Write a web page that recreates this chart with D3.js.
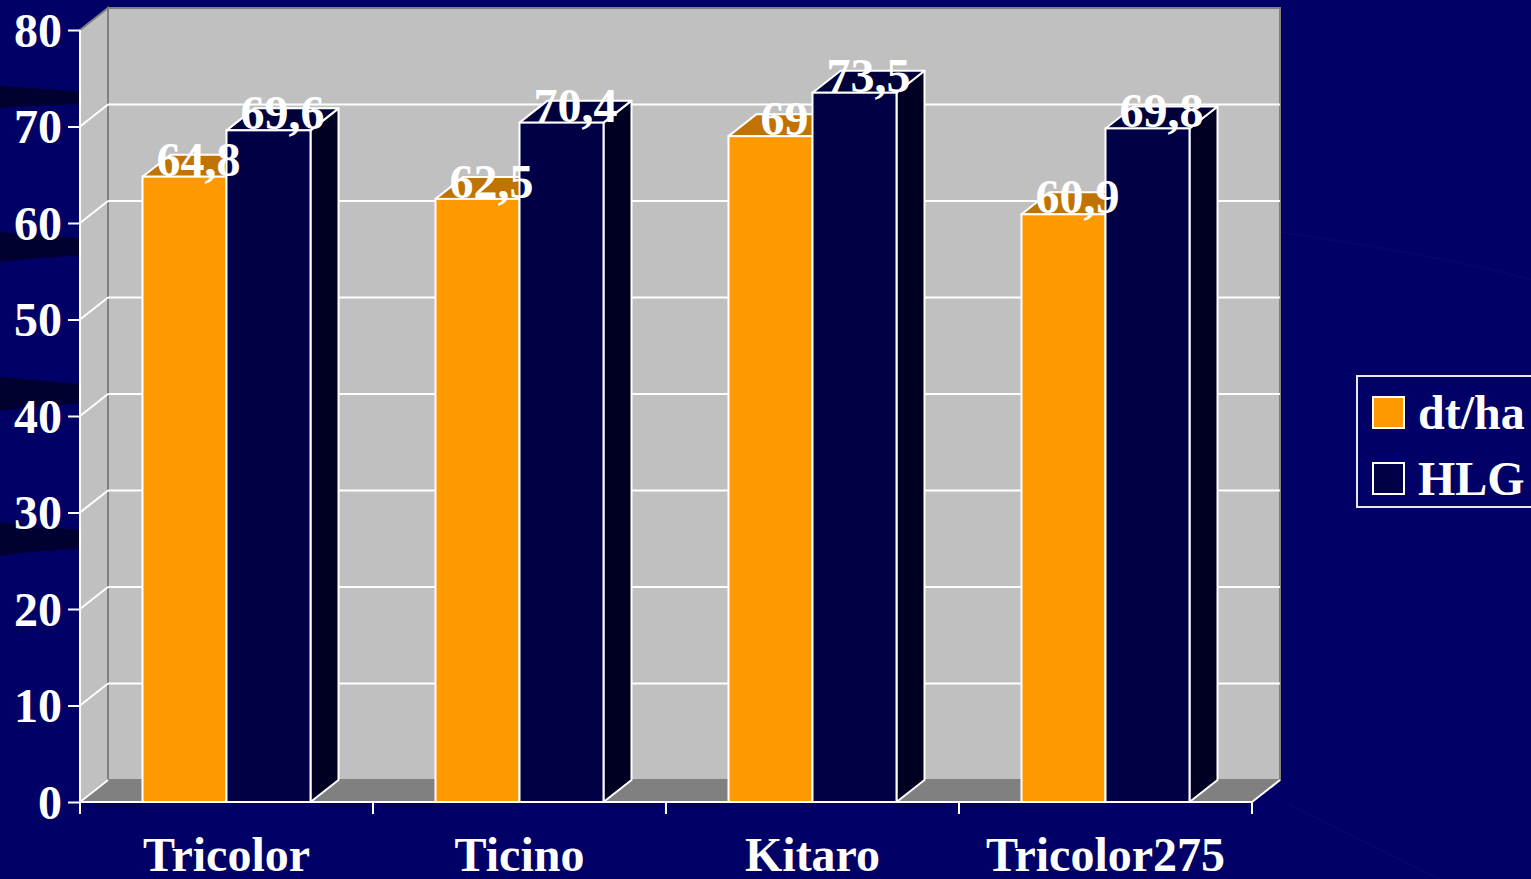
<!DOCTYPE html>
<html>
<head>
<meta charset="utf-8">
<script src="https://cdn.jsdelivr.net/npm/d3@7"></script>
<style>
  html, body { margin: 0; padding: 0; background: #000066; overflow: hidden; }
  svg { display: block; }
  text { font-family: "Liberation Serif", "Times New Roman", serif; font-weight: bold; fill: #ffffff; }
</style>
</head>
<body>
<svg id="chart" width="1531" height="879"></svg>
<script>
// ---- data ----
const categories = ["Tricolor", "Ticino", "Kitaro", "Tricolor275"];
const seriesNames = ["dt/ha", "HLG"];
const dtHa = [64.8, 62.5, 69, 60.9];
const hlg = [69.6, 70.4, 73.5, 69.8];
const yTicks = [0, 10, 20, 30, 40, 50, 60, 70, 80];
const valueLabels = {
  "dt/ha": ["64,8", "62,5", "69", "60,9"],
  "HLG": ["69,6", "70,4", "73,5", "69,8"]
};

const seriesValues = { "dt/ha": dtHa, "HLG": hlg };
const colors = {
  "dt/ha": { front: "#ff9900", top: "#c07300", side: "#a05f00" },
  "HLG":   { front: "#000046", top: "#00003a", side: "#000022" }
};

const svg = d3.select("#chart");
const W = 1531, H = 879;
const FS = 48;

// background decorative dark swooshes
const bg = svg.append("g");
bg.append("rect").attr("width", W).attr("height", H).attr("fill", "#000066");
const swoosh = [
  "M0,86 C60,90 140,96 300,104 L300,106 C140,100 60,104 0,108 Z",
  "M0,232 C50,236 150,244 300,252 L300,254 C150,250 50,256 0,262 Z",
  "M0,377 C50,382 150,390 300,398 L300,400 C150,398 50,404 0,411 Z",
  "M0,522 C50,528 150,536 300,544 L300,546 C150,544 50,548 0,556 Z"
];
bg.selectAll("path.sw").data(swoosh).enter().append("path")
  .attr("d", d => d).attr("fill", "#000028").attr("opacity", 0.85);
bg.append("path").attr("d", "M1280,232 C1400,250 1480,265 1531,280")
  .attr("fill", "none").attr("stroke", "#06066c").attr("stroke-width", 1.5);
bg.append("path").attr("d", "M1290,805 C1360,840 1400,860 1440,879")
  .attr("fill", "none").attr("stroke", "#06066c").attr("stroke-width", 1.5);

// ---- scales ----
const x0 = 80, x1 = 1252;
const DX = 28, DY = -22;
const y = d3.scaleLinear().domain([0, 80]).range([802, 30]);
const xCat = d3.scaleBand().domain(categories).range([x0, x1]).padding(0);
const barW = 84;
const xSer = d3.scaleBand().domain(seriesNames).range([-barW, barW]).padding(0);

const g = svg.append("g");

// back wall
g.append("rect")
  .attr("x", x0 + DX).attr("y", y(80) + DY)
  .attr("width", x1 - x0).attr("height", y(0) - y(80))
  .attr("fill", "#c0c0c0").attr("stroke", "#808080").attr("stroke-width", 2);
// left wall
g.append("path")
  .attr("d", `M${x0},${y(80)} L${x0 + DX},${y(80) + DY} L${x0 + DX},${y(0) + DY} L${x0},${y(0)} Z`)
  .attr("fill", "#c0c0c0").attr("stroke", "#808080").attr("stroke-width", 2);
// floor
g.append("path")
  .attr("d", `M${x0},${y(0)} L${x0 + DX},${y(0) + DY} L${x1 + DX},${y(0) + DY} L${x1},${y(0)} Z`)
  .attr("fill", "#808080");

// gridlines (back wall + left wall)
const gridVals = yTicks.filter(v => v > 0 && v < 80);
g.selectAll("line.gridb").data(gridVals).enter().append("line")
  .attr("x1", x0 + DX).attr("x2", x1 + DX)
  .attr("y1", d => y(d) + DY).attr("y2", d => y(d) + DY)
  .attr("stroke", "#ffffff").attr("stroke-width", 2);
g.selectAll("line.gridl").data(gridVals).enter().append("line")
  .attr("x1", x0).attr("x2", x0 + DX)
  .attr("y1", d => y(d)).attr("y2", d => y(d) + DY)
  .attr("stroke", "#ffffff").attr("stroke-width", 2);
// floor edges
g.append("line").attr("x1", x1).attr("y1", y(0)).attr("x2", x1 + DX).attr("y2", y(0) + DY)
  .attr("stroke", "#ffffff").attr("stroke-width", 2);
g.append("line").attr("x1", x0).attr("y1", y(0)).attr("x2", x0 + DX).attr("y2", y(0) + DY)
  .attr("stroke", "#ffffff").attr("stroke-width", 2);

// bars
categories.forEach((cat, i) => {
  const cx = xCat(cat) + xCat.bandwidth() / 2;
  seriesNames.forEach(s => {
    const v = seriesValues[s][i];
    const bx = cx + xSer(s);
    const bw = xSer.bandwidth();
    const yt = y(v), yb = y(0);
    const c = colors[s];
    const bar = g.append("g");
    bar.append("path")
      .attr("d", `M${bx + bw},${yt} L${bx + bw + DX},${yt + DY} L${bx + bw + DX},${yb + DY} L${bx + bw},${yb} Z`)
      .attr("fill", c.side).attr("stroke", "#ffffff").attr("stroke-width", 2).attr("stroke-linejoin", "round");
    bar.append("path")
      .attr("d", `M${bx},${yt} L${bx + DX},${yt + DY} L${bx + bw + DX},${yt + DY} L${bx + bw},${yt} Z`)
      .attr("fill", c.top).attr("stroke", "#ffffff").attr("stroke-width", 2).attr("stroke-linejoin", "round");
    bar.append("rect")
      .attr("x", bx).attr("y", yt).attr("width", bw).attr("height", yb - yt)
      .attr("fill", c.front).attr("stroke", "#ffffff").attr("stroke-width", 2);
  });
});

// value labels
categories.forEach((cat, i) => {
  const cx = xCat(cat) + xCat.bandwidth() / 2;
  seriesNames.forEach(s => {
    const v = seriesValues[s][i];
    const bx = cx + xSer(s);
    const bw = xSer.bandwidth();
    g.append("text")
      .attr("x", bx + bw / 2 + DX / 2)
      .attr("y", y(v) - 1)
      .attr("text-anchor", "middle")
      .attr("font-size", FS)
      .text(valueLabels[s][i]);
  });
});

// front axis line (bottom)
g.append("line").attr("x1", x0).attr("x2", x1).attr("y1", y(0)).attr("y2", y(0))
  .attr("stroke", "#ffffff").attr("stroke-width", 2);

// y axis
const yAxis = d3.axisLeft(y).tickValues(yTicks).tickSize(12).tickPadding(6).tickFormat(d3.format("d"));
const ya = svg.append("g").attr("transform", `translate(${x0},0)`).call(yAxis);
ya.select(".domain").attr("stroke", "#ffffff").attr("stroke-width", 2).attr("d", `M0,${y(80)}V${y(0)}`);
ya.selectAll(".tick line").attr("stroke", "#ffffff").attr("stroke-width", 2);
ya.selectAll(".tick text")
  .attr("font-size", FS).attr("font-family", "Liberation Serif, Times New Roman, serif")
  .attr("font-weight", "bold").attr("fill", "#ffffff").attr("dy", "0.34em");

// x axis
const xAxis = d3.axisBottom(xCat).tickSize(0).tickPadding(0);
const xa = svg.append("g").attr("transform", `translate(0,${y(0)})`).call(xAxis);
xa.select(".domain").remove();
xa.selectAll(".tick text")
  .attr("font-size", FS).attr("font-family", "Liberation Serif, Times New Roman, serif")
  .attr("font-weight", "bold").attr("fill", "#ffffff").attr("dy", null).attr("y", 69);
const bounds = categories.map(c => xCat(c)).concat([x1]);
svg.selectAll("line.xt").data(bounds).enter().append("line")
  .attr("x1", d => d).attr("x2", d => d)
  .attr("y1", y(0)).attr("y2", y(0) + 12)
  .attr("stroke", "#ffffff").attr("stroke-width", 2);

// legend
const lg = svg.append("g").attr("transform", "translate(1357,376)");
lg.append("rect").attr("width", 230).attr("height", 131)
  .attr("fill", "none").attr("stroke", "#e8e8e8").attr("stroke-width", 2);
seriesNames.forEach((s, i) => {
  const row = lg.append("g").attr("transform", `translate(16,${21 + i * 66})`);
  row.append("rect").attr("width", 31).attr("height", 31)
    .attr("fill", colors[s].front).attr("stroke", "#ffffff").attr("stroke-width", 2);
  row.append("text").attr("x", 45).attr("y", 32).attr("font-size", FS).text(s);
});
</script>
</body>
</html>
